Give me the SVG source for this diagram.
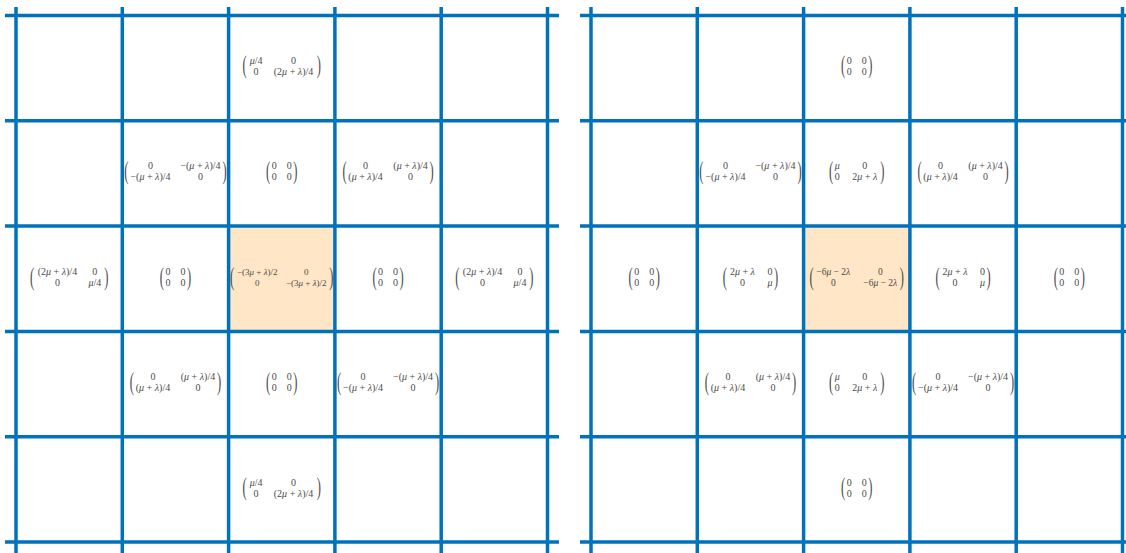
<svg xmlns="http://www.w3.org/2000/svg" width="1126" height="553" viewBox="0 0 1126 553">
<style>
.bg{fill:#ffffff}
.hl{fill:#FFE6C6}
.g line{stroke:#0072BB;stroke-width:3.5}
.e{font-family:"Liberation Serif","DejaVu Serif",serif;font-size:10px;fill:#4a4a4a;text-anchor:middle}
.s{font-size:9px}
.i{font-style:italic}
.pl,.pr{font-family:"Liberation Serif","DejaVu Serif",serif;font-size:25px;fill:#4a4a4a}
.pl{text-anchor:end}
.pr{text-anchor:start}
</style>
<rect class="bg" x="0" y="0" width="1126" height="553"/>

<!-- LEFT GRID CELLS -->
<g id="L-r0c2" transform="translate(281.75,66)">
<text class="pl" transform="translate(-35,7) scale(0.5,1)">(</text>
<text class="e" x="-25.65" y="-2.5"><tspan class="i">μ</tspan>/4</text>
<text class="e" x="11.75" y="-2.5">0</text>
<text class="e" x="-25.65" y="8.5">0</text>
<text class="e" x="11.75" y="8.5">(2<tspan class="i">μ</tspan> + <tspan class="i">λ</tspan>)/4</text>
<text class="pr" transform="translate(35,7) scale(0.5,1)">)</text>
</g>
<g id="L-r1c1" transform="translate(175.45,171.5)">
<text class="pl" transform="translate(-47,7) scale(0.5,1)">(</text>
<text class="e" x="-25" y="-2.5">0</text>
<text class="e" x="25" y="-2.5">−(<tspan class="i">μ</tspan> + <tspan class="i">λ</tspan>)/4</text>
<text class="e" x="-25" y="8.5">−(<tspan class="i">μ</tspan> + <tspan class="i">λ</tspan>)/4</text>
<text class="e" x="25" y="8.5">0</text>
<text class="pr" transform="translate(47,7) scale(0.5,1)">)</text>
</g>
<g id="L-r1c2" transform="translate(281.75,171.5)">
<text class="pl" transform="translate(-11.5,7) scale(0.5,1)">(</text>
<text class="e" x="-7.5" y="-2.5">0</text><text class="e" x="7.5" y="-2.5">0</text>
<text class="e" x="-7.5" y="8.5">0</text><text class="e" x="7.5" y="8.5">0</text>
<text class="pr" transform="translate(11.5,7) scale(0.5,1)">)</text>
</g>
<g id="L-r1c3" transform="translate(388.05,171.5)">
<text class="pl" transform="translate(-41.5,7) scale(0.5,1)">(</text>
<text class="e" x="-22.5" y="-2.5">0</text>
<text class="e" x="22.5" y="-2.5">(<tspan class="i">μ</tspan> + <tspan class="i">λ</tspan>)/4</text>
<text class="e" x="-22.5" y="8.5">(<tspan class="i">μ</tspan> + <tspan class="i">λ</tspan>)/4</text>
<text class="e" x="22.5" y="8.5">0</text>
<text class="pr" transform="translate(41.5,7) scale(0.5,1)">)</text>
</g>
<g id="L-r2c0" transform="translate(69.15,277.5)">
<text class="pl" transform="translate(-35,7) scale(0.5,1)">(</text>
<text class="e" x="-11.75" y="-2.5">(2<tspan class="i">μ</tspan> + <tspan class="i">λ</tspan>)/4</text>
<text class="e" x="25.65" y="-2.5">0</text>
<text class="e" x="-11.75" y="8.5">0</text>
<text class="e" x="25.65" y="8.5"><tspan class="i">μ</tspan>/4</text>
<text class="pr" transform="translate(35,7) scale(0.5,1)">)</text>
</g>
<g id="L-r2c1" transform="translate(175.45,277.5)">
<text class="pl" transform="translate(-11.5,7) scale(0.5,1)">(</text>
<text class="e" x="-7.5" y="-2.5">0</text><text class="e" x="7.5" y="-2.5">0</text>
<text class="e" x="-7.5" y="8.5">0</text><text class="e" x="7.5" y="8.5">0</text>
<text class="pr" transform="translate(11.5,7) scale(0.5,1)">)</text>
</g>
<g id="L-r2c2">
<rect class="hl" x="228.6" y="226.1" width="106.3" height="105.3"/>
<g transform="translate(281.75,277.5)">
<text class="pl" transform="translate(-47.5,7) scale(0.5,1)">(</text>
<text class="e s" x="-24.5" y="-2.5">−(3<tspan class="i">μ</tspan> + <tspan class="i">λ</tspan>)/2</text>
<text class="e s" x="24.5" y="-2.5">0</text>
<text class="e s" x="-24.5" y="8.5">0</text>
<text class="e s" x="24.5" y="8.5">−(3<tspan class="i">μ</tspan> + <tspan class="i">λ</tspan>)/2</text>
<text class="pr" transform="translate(47.5,7) scale(0.5,1)">)</text>
</g>
</g>
<g id="L-r2c3" transform="translate(388.05,277.5)">
<text class="pl" transform="translate(-11.5,7) scale(0.5,1)">(</text>
<text class="e" x="-7.5" y="-2.5">0</text><text class="e" x="7.5" y="-2.5">0</text>
<text class="e" x="-7.5" y="8.5">0</text><text class="e" x="7.5" y="8.5">0</text>
<text class="pr" transform="translate(11.5,7) scale(0.5,1)">)</text>
</g>
<g id="L-r2c4" transform="translate(494.35,277.5)">
<text class="pl" transform="translate(-35,7) scale(0.5,1)">(</text>
<text class="e" x="-11.75" y="-2.5">(2<tspan class="i">μ</tspan> + <tspan class="i">λ</tspan>)/4</text>
<text class="e" x="25.65" y="-2.5">0</text>
<text class="e" x="-11.75" y="8.5">0</text>
<text class="e" x="25.65" y="8.5"><tspan class="i">μ</tspan>/4</text>
<text class="pr" transform="translate(35,7) scale(0.5,1)">)</text>
</g>
<g id="L-r3c1" transform="translate(175.45,382.5)">
<text class="pl" transform="translate(-41.5,7) scale(0.5,1)">(</text>
<text class="e" x="-22.5" y="-2.5">0</text>
<text class="e" x="22.5" y="-2.5">(<tspan class="i">μ</tspan> + <tspan class="i">λ</tspan>)/4</text>
<text class="e" x="-22.5" y="8.5">(<tspan class="i">μ</tspan> + <tspan class="i">λ</tspan>)/4</text>
<text class="e" x="22.5" y="8.5">0</text>
<text class="pr" transform="translate(41.5,7) scale(0.5,1)">)</text>
</g>
<g id="L-r3c2" transform="translate(281.75,382.5)">
<text class="pl" transform="translate(-11.5,7) scale(0.5,1)">(</text>
<text class="e" x="-7.5" y="-2.5">0</text><text class="e" x="7.5" y="-2.5">0</text>
<text class="e" x="-7.5" y="8.5">0</text><text class="e" x="7.5" y="8.5">0</text>
<text class="pr" transform="translate(11.5,7) scale(0.5,1)">)</text>
</g>
<g id="L-r3c3" transform="translate(388.05,382.5)">
<text class="pl" transform="translate(-47,7) scale(0.5,1)">(</text>
<text class="e" x="-25" y="-2.5">0</text>
<text class="e" x="25" y="-2.5">−(<tspan class="i">μ</tspan> + <tspan class="i">λ</tspan>)/4</text>
<text class="e" x="-25" y="8.5">−(<tspan class="i">μ</tspan> + <tspan class="i">λ</tspan>)/4</text>
<text class="e" x="25" y="8.5">0</text>
<text class="pr" transform="translate(47,7) scale(0.5,1)">)</text>
</g>
<g id="L-r4c2" transform="translate(281.75,488)">
<text class="pl" transform="translate(-35,7) scale(0.5,1)">(</text>
<text class="e" x="-25.65" y="-2.5"><tspan class="i">μ</tspan>/4</text>
<text class="e" x="11.75" y="-2.5">0</text>
<text class="e" x="-25.65" y="8.5">0</text>
<text class="e" x="11.75" y="8.5">(2<tspan class="i">μ</tspan> + <tspan class="i">λ</tspan>)/4</text>
<text class="pr" transform="translate(35,7) scale(0.5,1)">)</text>
</g>

<!-- RIGHT GRID CELLS -->
<g id="R-r0c2" transform="translate(856.75,66)">
<text class="pl" transform="translate(-11.5,7) scale(0.5,1)">(</text>
<text class="e" x="-7.5" y="-2.5">0</text><text class="e" x="7.5" y="-2.5">0</text>
<text class="e" x="-7.5" y="8.5">0</text><text class="e" x="7.5" y="8.5">0</text>
<text class="pr" transform="translate(11.5,7) scale(0.5,1)">)</text>
</g>
<g id="R-r1c1" transform="translate(750.45,171.5)">
<text class="pl" transform="translate(-47,7) scale(0.5,1)">(</text>
<text class="e" x="-25" y="-2.5">0</text>
<text class="e" x="25" y="-2.5">−(<tspan class="i">μ</tspan> + <tspan class="i">λ</tspan>)/4</text>
<text class="e" x="-25" y="8.5">−(<tspan class="i">μ</tspan> + <tspan class="i">λ</tspan>)/4</text>
<text class="e" x="25" y="8.5">0</text>
<text class="pr" transform="translate(47,7) scale(0.5,1)">)</text>
</g>
<g id="R-r1c2" transform="translate(856.75,171.5)">
<text class="pl" transform="translate(-23.5,7) scale(0.5,1)">(</text>
<text class="e" x="-19.5" y="-2.5"><tspan class="i">μ</tspan></text>
<text class="e" x="8" y="-2.5">0</text>
<text class="e" x="-19.5" y="8.5">0</text>
<text class="e" x="8" y="8.5">2<tspan class="i">μ</tspan> + <tspan class="i">λ</tspan></text>
<text class="pr" transform="translate(23.5,7) scale(0.5,1)">)</text>
</g>
<g id="R-r1c3" transform="translate(963.05,171.5)">
<text class="pl" transform="translate(-41.5,7) scale(0.5,1)">(</text>
<text class="e" x="-22.5" y="-2.5">0</text>
<text class="e" x="22.5" y="-2.5">(<tspan class="i">μ</tspan> + <tspan class="i">λ</tspan>)/4</text>
<text class="e" x="-22.5" y="8.5">(<tspan class="i">μ</tspan> + <tspan class="i">λ</tspan>)/4</text>
<text class="e" x="22.5" y="8.5">0</text>
<text class="pr" transform="translate(41.5,7) scale(0.5,1)">)</text>
</g>
<g id="R-r2c0" transform="translate(644.15,277.5)">
<text class="pl" transform="translate(-11.5,7) scale(0.5,1)">(</text>
<text class="e" x="-7.5" y="-2.5">0</text><text class="e" x="7.5" y="-2.5">0</text>
<text class="e" x="-7.5" y="8.5">0</text><text class="e" x="7.5" y="8.5">0</text>
<text class="pr" transform="translate(11.5,7) scale(0.5,1)">)</text>
</g>
<g id="R-r2c1" transform="translate(750.45,277.5)">
<text class="pl" transform="translate(-23.5,7) scale(0.5,1)">(</text>
<text class="e" x="-8" y="-2.5">2<tspan class="i">μ</tspan> + <tspan class="i">λ</tspan></text>
<text class="e" x="19.5" y="-2.5">0</text>
<text class="e" x="-8" y="8.5">0</text>
<text class="e" x="19.5" y="8.5"><tspan class="i">μ</tspan></text>
<text class="pr" transform="translate(23.5,7) scale(0.5,1)">)</text>
</g>
<g id="R-r2c2">
<rect class="hl" x="803.6" y="226.1" width="106.3" height="105.3"/>
<g transform="translate(856.75,277.5)">
<text class="pl" transform="translate(-43,7) scale(0.5,1)">(</text>
<text class="e" style="font-size:9.5px" x="-23.5" y="-2.5">−6<tspan class="i">μ</tspan> − 2<tspan class="i">λ</tspan></text>
<text class="e" style="font-size:9.5px" x="23.5" y="-2.5">0</text>
<text class="e" style="font-size:9.5px" x="-23.5" y="8.5">0</text>
<text class="e" style="font-size:9.5px" x="23.5" y="8.5">−6<tspan class="i">μ</tspan> − 2<tspan class="i">λ</tspan></text>
<text class="pr" transform="translate(43,7) scale(0.5,1)">)</text>
</g>
</g>
<g id="R-r2c3" transform="translate(963.05,277.5)">
<text class="pl" transform="translate(-23.5,7) scale(0.5,1)">(</text>
<text class="e" x="-8" y="-2.5">2<tspan class="i">μ</tspan> + <tspan class="i">λ</tspan></text>
<text class="e" x="19.5" y="-2.5">0</text>
<text class="e" x="-8" y="8.5">0</text>
<text class="e" x="19.5" y="8.5"><tspan class="i">μ</tspan></text>
<text class="pr" transform="translate(23.5,7) scale(0.5,1)">)</text>
</g>
<g id="R-r2c4" transform="translate(1069.35,277.5)">
<text class="pl" transform="translate(-11.5,7) scale(0.5,1)">(</text>
<text class="e" x="-7.5" y="-2.5">0</text><text class="e" x="7.5" y="-2.5">0</text>
<text class="e" x="-7.5" y="8.5">0</text><text class="e" x="7.5" y="8.5">0</text>
<text class="pr" transform="translate(11.5,7) scale(0.5,1)">)</text>
</g>
<g id="R-r3c1" transform="translate(750.45,382.5)">
<text class="pl" transform="translate(-41.5,7) scale(0.5,1)">(</text>
<text class="e" x="-22.5" y="-2.5">0</text>
<text class="e" x="22.5" y="-2.5">(<tspan class="i">μ</tspan> + <tspan class="i">λ</tspan>)/4</text>
<text class="e" x="-22.5" y="8.5">(<tspan class="i">μ</tspan> + <tspan class="i">λ</tspan>)/4</text>
<text class="e" x="22.5" y="8.5">0</text>
<text class="pr" transform="translate(41.5,7) scale(0.5,1)">)</text>
</g>
<g id="R-r3c2" transform="translate(856.75,382.5)">
<text class="pl" transform="translate(-23.5,7) scale(0.5,1)">(</text>
<text class="e" x="-19.5" y="-2.5"><tspan class="i">μ</tspan></text>
<text class="e" x="8" y="-2.5">0</text>
<text class="e" x="-19.5" y="8.5">0</text>
<text class="e" x="8" y="8.5">2<tspan class="i">μ</tspan> + <tspan class="i">λ</tspan></text>
<text class="pr" transform="translate(23.5,7) scale(0.5,1)">)</text>
</g>
<g id="R-r3c3" transform="translate(963.05,382.5)">
<text class="pl" transform="translate(-47,7) scale(0.5,1)">(</text>
<text class="e" x="-25" y="-2.5">0</text>
<text class="e" x="25" y="-2.5">−(<tspan class="i">μ</tspan> + <tspan class="i">λ</tspan>)/4</text>
<text class="e" x="-25" y="8.5">−(<tspan class="i">μ</tspan> + <tspan class="i">λ</tspan>)/4</text>
<text class="e" x="25" y="8.5">0</text>
<text class="pr" transform="translate(47,7) scale(0.5,1)">)</text>
</g>
<g id="R-r4c2" transform="translate(856.75,488)">
<text class="pl" transform="translate(-11.5,7) scale(0.5,1)">(</text>
<text class="e" x="-7.5" y="-2.5">0</text><text class="e" x="7.5" y="-2.5">0</text>
<text class="e" x="-7.5" y="8.5">0</text><text class="e" x="7.5" y="8.5">0</text>
<text class="pr" transform="translate(11.5,7) scale(0.5,1)">)</text>
</g>

<!-- GRID LINES -->
<g id="grid" class="g">
<line x1="16" y1="7" x2="16" y2="553"/>
<line x1="122.3" y1="7" x2="122.3" y2="553"/>
<line x1="228.6" y1="7" x2="228.6" y2="553"/>
<line x1="334.9" y1="7" x2="334.9" y2="553"/>
<line x1="441.2" y1="7" x2="441.2" y2="553"/>
<line x1="547.5" y1="7" x2="547.5" y2="553"/>
<line x1="5" y1="15.5" x2="559" y2="15.5"/>
<line x1="5" y1="120.8" x2="559" y2="120.8"/>
<line x1="5" y1="226.1" x2="559" y2="226.1"/>
<line x1="5" y1="331.4" x2="559" y2="331.4"/>
<line x1="5" y1="436.7" x2="559" y2="436.7"/>
<line x1="5" y1="542" x2="559" y2="542"/>
<line x1="591" y1="7" x2="591" y2="553"/>
<line x1="697.3" y1="7" x2="697.3" y2="553"/>
<line x1="803.6" y1="7" x2="803.6" y2="553"/>
<line x1="909.9" y1="7" x2="909.9" y2="553"/>
<line x1="1016.2" y1="7" x2="1016.2" y2="553"/>
<line x1="1122.5" y1="7" x2="1122.5" y2="553"/>
<line x1="580" y1="15.5" x2="1126" y2="15.5"/>
<line x1="580" y1="120.8" x2="1126" y2="120.8"/>
<line x1="580" y1="226.1" x2="1126" y2="226.1"/>
<line x1="580" y1="331.4" x2="1126" y2="331.4"/>
<line x1="580" y1="436.7" x2="1126" y2="436.7"/>
<line x1="580" y1="542" x2="1126" y2="542"/>
</g>
</svg>
